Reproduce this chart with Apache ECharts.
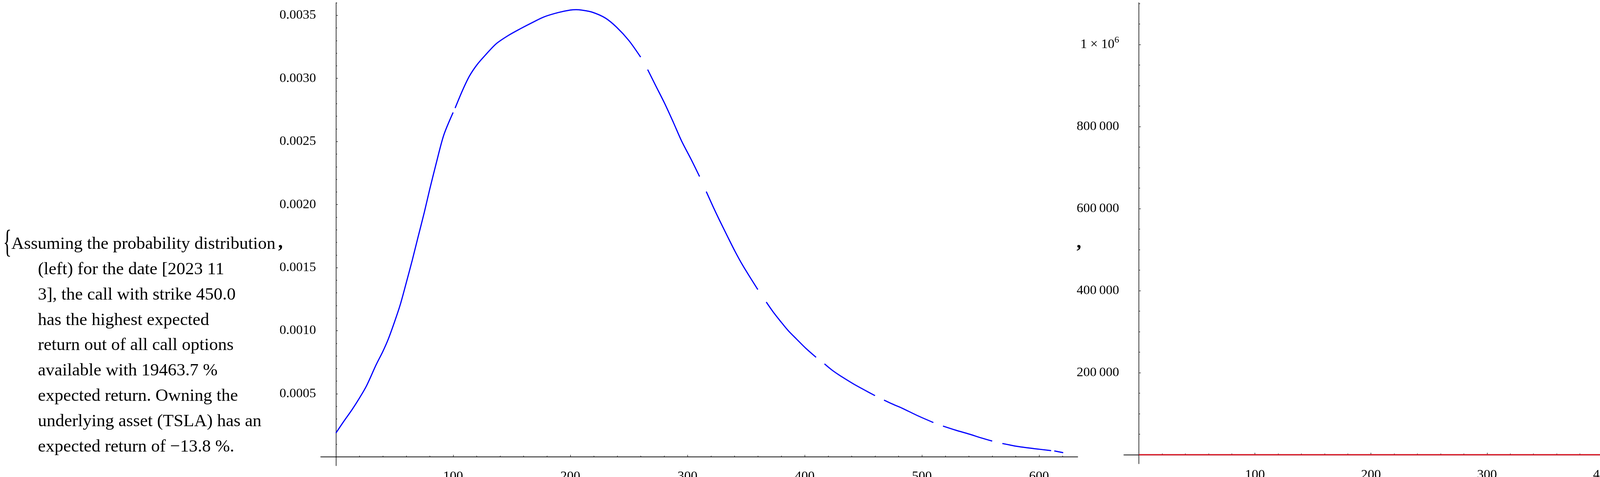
<!DOCTYPE html>
<html>
<head>
<meta charset="utf-8">
<script src="https://cdn.jsdelivr.net/npm/echarts@6.0.0/dist/echarts.min.js"></script>
<style>
  html, body { margin: 0; padding: 0; background: #fff; }
  #main { width: 4820px; height: 1221px; }
</style>
</head>
<body>
<div id="main"></div>
<script>
// left panel: probability density over the underlying price (null = plot gap)
var densX = [0, 6, 13.8, 20, 26.1, 34.3, 40, 44.6, 50, 54.8, 60, 65.1, 70, 75.4, 80, 85.6, 92, 100, null,
  101.7, 108.2, 114, 120.5, 128, 136.9, 147, 157.4, 168, 177.9, 190, 200, 205, 210, 219, 230, 239.5, 250, 260, null,
  266, 273, 280.5, 288, 294.9, 303, 310.3, null,
  316, 322, 327.2, 334, 340.5, 347, 353.9, 360, null,
  367.2, 373, 379.5, 386, 392.9, 401, 409.7, null,
  416.9, 423, 429.8, 436, 442.2, 451, 460, null,
  467.7, 475, 483.1, 496, 509.8, null,
  518, 529, 540.5, 550, 560, null,
  568.7, 575, 581.6, 596, 610.3, null,
  613, 620.6];
var densY = [0.000189, 0.000272, 0.000375, 0.000465, 0.000563, 0.00073, 0.000835, 0.000932, 0.00107, 0.001204, 0.00138, 0.001558, 0.00174, 0.001938, 0.00212, 0.002328, 0.00255, 0.00273, null,
  0.002765, 0.002909, 0.00302, 0.00311, 0.00319, 0.003276, 0.00334, 0.003394, 0.003445, 0.003489, 0.003523, 0.003542, 0.003545, 0.003541, 0.003524, 0.003478, 0.003406, 0.0033, 0.003169, null,
  0.00307, 0.00294, 0.002802, 0.00265, 0.002505, 0.00236, 0.002222, null,
  0.002103, 0.00198, 0.001878, 0.00175, 0.00163, 0.00152, 0.001416, 0.001326, null,
  0.001227, 0.00115, 0.001073, 0.001, 0.000935, 0.00086, 0.000789, null,
  0.000737, 0.00069, 0.000646, 0.00061, 0.000575, 0.00053, 0.000485, null,
  0.00045, 0.000418, 0.000386, 0.000328, 0.000272, null,
  0.000244, 0.000211, 0.00018, 0.000152, 0.000125, null,
  0.000106, 0.000094, 0.0000827, 0.000065, 0.0000495, null,
  0.000047, 0.000033];

// right panel: call payoff and underlying return
var callX = [0, 450, 557];
var callY = [0, 0, 1082000];
var stockX = [0, 633];
var stockY = [0, 0];

// ticks
var xMajor = [100, 200, 300, 400, 500, 600];
var xMinor = [20, 40, 60, 80, 120, 140, 160, 180, 220, 240, 260, 280, 320, 340, 360, 380,
  420, 440, 460, 480, 520, 540, 560, 580, 620];
var densMajor = [0.0005, 0.001, 0.0015, 0.002, 0.0025, 0.003, 0.0035];
var densMinor = [0.0001, 0.0002, 0.0003, 0.0004, 0.0006, 0.0007, 0.0008, 0.0009, 0.0011, 0.0012, 0.0013, 0.0014,
  0.0016, 0.0017, 0.0018, 0.0019, 0.0021, 0.0022, 0.0023, 0.0024, 0.0026, 0.0027, 0.0028, 0.0029,
  0.0031, 0.0032, 0.0033, 0.0034, 0.0036];
var payMajor = [200000, 400000, 600000, 800000, 1000000];
var payMinor = [50000, 100000, 150000, 250000, 300000, 350000, 450000, 500000, 550000, 650000, 700000, 750000,
  850000, 900000, 950000, 1050000, 1100000];

var textLines = [
  '(left) for the date [2023 11',
  '3], the call with strike 450.0',
  'has the highest expected',
  'return out of all call options',
  'available with 19463.7 %',
  'expected return. Owning the',
  'underlying asset (TSLA) has an',
  'expected return of \u221213.8 %.'
];

var FONT = '"Liberation Serif", "Times New Roman", serif';

function zip(xs, ys) {
  return xs.map(function (x, i) {
    return (x == null || ys[i] == null) ? ['-', '-'] : [x, ys[i]];
  });
}

function xAxisDef(grid, ticks, len, labels, margin) {
  return {
    type: 'value', gridIndex: grid, min: -13, max: 633, z: 3,
    axisLine: { show: true, onZero: true, lineStyle: { color: '#000', width: 1.3 } },
    axisTick: { show: true, inside: true, length: len, customValues: ticks, lineStyle: { color: '#000', width: 1.2 } },
    axisLabel: labels ? {
      show: true, customValues: ticks, margin: margin, verticalAlign: 'middle',
      color: '#000', fontSize: 34, fontFamily: FONT
    } : { show: false },
    splitLine: { show: false }
  };
}

function yAxisDef(grid, min, max, ticks, len, labels, fmt) {
  return {
    type: 'value', gridIndex: grid, min: min, max: max, z: 3,
    axisLine: { show: true, onZero: true, lineStyle: { color: '#000', width: 1.3 } },
    axisTick: { show: true, inside: true, length: len, customValues: ticks, lineStyle: { color: '#000', width: 1.2 } },
    axisLabel: labels ? {
      show: true, customValues: ticks, margin: 12, color: '#000', fontSize: 34, fontFamily: FONT,
      formatter: fmt,
      rich: {
        a: { fontSize: 34, fontFamily: FONT, color: '#000' },
        s: { fontSize: 24, fontFamily: FONT, color: '#000', padding: [0, 0, 22, 0] }
      }
    } : { show: false },
    splitLine: { show: false }
  };
}

var leftGrid = { left: 821, top: 7, width: 1938, height: 1185, outerBoundsMode: 'none', containLabel: false };
var rightGrid = { left: 2877, top: 7, width: 1919, height: 1180, outerBoundsMode: 'none', containLabel: false };

var graphics = [
  { type: 'text', x: 8, y: 624, scaleY: 1.85,
    style: { text: '{', fontSize: 45, fontFamily: FONT, fill: '#000', verticalAlign: 'middle' } },
  { type: 'text', x: 29, y: 625,
    style: { text: 'Assuming the probability distribution', fontSize: 45, fontFamily: FONT, fill: '#000', verticalAlign: 'middle' } },
  { type: 'text', x: 712, y: 622,
    style: { text: ',', fontSize: 48, fontFamily: FONT, fontWeight: 'bold', fill: '#000', verticalAlign: 'middle' } },
  { type: 'text', x: 2756, y: 622,
    style: { text: ',', fontSize: 48, fontFamily: FONT, fontWeight: 'bold', fill: '#000', verticalAlign: 'middle' } },
  { type: 'text', x: 4796, y: 624, scaleY: 1.85,
    style: { text: '}', fontSize: 45, fontFamily: FONT, fill: '#000', verticalAlign: 'middle' } }
];
textLines.forEach(function (t, i) {
  graphics.push({ type: 'text', x: 97, y: 625 + 64.9 * (i + 1),
    style: { text: t, fontSize: 45, fontFamily: FONT, fill: '#000', verticalAlign: 'middle' } });
});

var chart = echarts.init(document.getElementById('main'));
chart.setOption({
  animation: false,
  backgroundColor: '#fff',
  grid: [leftGrid, leftGrid, rightGrid, rightGrid],
  xAxis: [
    xAxisDef(0, xMajor, 5, true, 28),
    xAxisDef(1, xMinor, 3, false, 0),
    xAxisDef(2, xMajor, 5, true, 29),
    xAxisDef(3, xMinor, 3, false, 0)
  ],
  yAxis: [
    yAxisDef(0, -0.00007, 0.0036, densMajor, 5, true, function (v) { return v.toFixed(4); }),
    yAxisDef(1, -0.00007, 0.0036, densMinor, 3, false),
    yAxisDef(2, -22000, 1102000, payMajor, 5, true, function (v) {
      if (v >= 1000000) return '{a|1 \u00d7 10}{s|6}';
      var s = String(Math.round(v));
      return s.slice(0, s.length - 3) + '\u2009' + s.slice(s.length - 3);
    }),
    yAxisDef(3, -22000, 1102000, payMinor, 3, false)
  ],
  series: [
    {
      name: 'density', type: 'line', xAxisIndex: 0, yAxisIndex: 0,
      data: zip(densX, densY), showSymbol: false, smooth: 0.3, connectNulls: false,
      lineStyle: { color: '#0000ff', width: 3 }, itemStyle: { color: '#0000ff' }
    },
    {
      name: 'call', type: 'line', xAxisIndex: 2, yAxisIndex: 2,
      data: zip(callX, callY), showSymbol: false,
      lineStyle: { color: '#3d3d99', width: 2.5 }, itemStyle: { color: '#3d3d99' }
    },
    {
      name: 'stock', type: 'line', xAxisIndex: 2, yAxisIndex: 2,
      data: zip(stockX, stockY), showSymbol: false,
      lineStyle: { color: '#e3161f', width: 3 }, itemStyle: { color: '#e3161f' }
    }
  ],
  graphic: graphics
});
</script>
</body>
</html>
